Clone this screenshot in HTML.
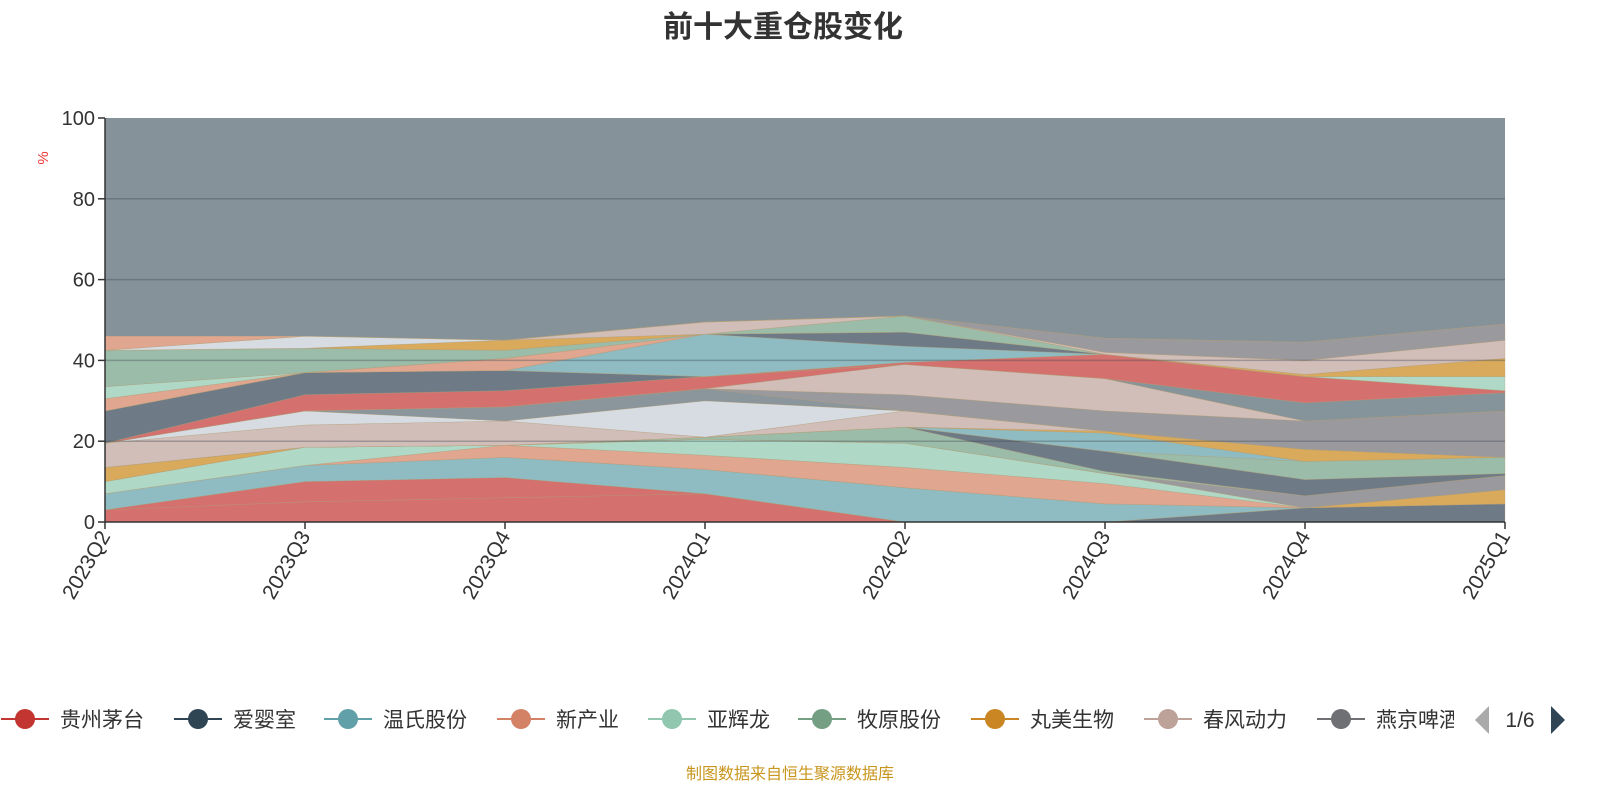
<!DOCTYPE html>
<html><head><meta charset="utf-8"><style>
body{margin:0;background:#fff;font-family:"Liberation Sans","Noto Sans CJK SC",sans-serif}
svg text{font-family:"Liberation Sans","Noto Sans CJK SC",sans-serif}
</style></head><body>
<svg id="c" width="1600" height="800">
<text x="783" y="37" text-anchor="middle" font-size="30" font-weight="bold" fill="#333">前十大重仓股变化</text>
<g id="areas"></g>
<g id="axes"></g>
<text x="0" y="0" transform="translate(48,158) rotate(-90)" text-anchor="middle" font-size="15" fill="#e33">%</text>
<g id="legend"></g>
<text x="790" y="779" text-anchor="middle" font-size="16" fill="#c8961e">制图数据来自恒生聚源数据库</text>
</svg>
<script>
const categories=["2023Q2","2023Q3","2023Q4","2024Q1","2024Q2","2024Q3","2024Q4","2025Q1"];
const yTicks=[0,20,40,60,80,100];
const legendNames=["贵州茅台","爱婴室","温氏股份","新产业","亚辉龙","牧原股份","丸美生物","春风动力","燕京啤酒"];
const legendColors=["#c23531","#2f4554","#61a0a8","#d48265","#91c7ae","#749f83","#ca8622","#bda29a","#6e7074"];
const s01=[3,5,6,7,0,0,0,0];
const s02=[0,0,0,0,0,0,3.5,4.5];
const s03=[0,5,5,0,0,0,0,0];
const s04=[4,4,5,6,8.5,4.5,0,0];
const s05=[0,0,0,0,0,0,0,3.5];
const s06=[0,0,3,3.5,5,5,0,0];
const s07=[3,4.5,0,4,6,2.5,0,0];
const s08=[0,0,0,0,0,0,3,3.5];
const s09=[3.5,0,0,0,0,0,0,0];
const s10=[0,0,0,0.5,4,0.5,0,0];
const s11=[0,0,0,0,0,5,4,0.5];
const s12=[0,0,0,0,0,0,4.5,4];
const s13=[0,0,0,0,0,4.5,0,0];
const s14=[0,0,0,0,0,0.5,3,0];
const s15=[6,5.5,6,0,4,0,0,0];
const s16=[0,3.5,0,9,0,0,0,0];
const s17=[0,0,3.5,3,0,0,0,0];
const s18=[0,0,0,0,4,5,7,11.5];
const s19=[0,0,0,0,7.5,8,0,0];
const s20=[0,4,4,3,0,0,0,0];
const s21=[8,5.5,5,0,0,0,0,0];
const s22=[0,0,0,0,0,0,4.5,4.5];
const s23=[0,0,0,0,0.5,6,6.5,0.5];
const s24=[0,0,0,10.5,4,0,0,0];
const s25=[0,0,0,0,3.5,0,0,0];
const s26=[3,0,3,0,0,0,0,0];
const s27=[3,0,0,0,0,0,0,3.5];
const s28=[9,6,2,0,4,0,0,0];
const s29=[0,0,2.5,0,0,0,0.5,4.5];
const s30=[0,0,0,3,0,0.5,3.5,4.5];
const s31=[0,3,0,0,0,0,0,0];
const s32=[0,0,0,0,0,3.5,4.5,4];
const s33=[3.5,0,0,0,0,0,0,0];
const series=[s01,s02,s03,s04,s05,s06,s07,s08,s09,s10,s11,s12,s13,s14,s15,s16,s17,s18,s19,s20,s21,s22,s23,s24,s25,s26,s27,s28,s29,s30,s31,s32,s33];
const fills=["#d4706e","#6e7b87","#d4706e","#8fbcc2","#d9a95c","#e0a690","#b0d8c6","#9a9a9e","#d9a95c","#9bbca8","#6e7b87","#9bbca8","#8fbcc2","#d9a95c","#d2beb8","#d7dce2","#8a959c","#9a9a9e","#d2beb8","#d4706e","#6e7b87","#85939a","#d4706e","#8fbcc2","#6e7b87","#e0a690","#b0d8c6","#9bbca8","#d9a95c","#d2beb8","#d7dce2","#9a9a9e","#e0a690"];
const NS="http://www.w3.org/2000/svg";
const X0=105,X1=1505,Y0=522,Y1=118;
const xs=i=>X0+(X1-X0)*i/(categories.length-1);
const ys=v=>Y0-(Y0-Y1)*v/100;
const areas=document.getElementById('areas');
function mk(t,a,p){const e=document.createElementNS(NS,t);for(const k in a)e.setAttribute(k,a[k]);p.appendChild(e);return e;}
let base=categories.map(()=>0);
const bg=mk('rect',{x:X0,y:Y1,width:X1-X0,height:Y0-Y1,fill:'#85929a'},areas);


series.forEach((s,k)=>{
  const top=base.map((b,i)=>b+s[i]);
  let d='';
  top.forEach((v,i)=>{d+=(i?'L':'M')+xs(i)+','+ys(v);});
  for(let i=base.length-1;i>=0;i--)d+='L'+xs(i)+','+ys(base[i]);
  const p=mk('path',{d:d+'Z',fill:fills[k],stroke:'rgba(180,160,120,0.5)','stroke-width':0.6},areas);
  
  
  base=top;
});
const ax=document.getElementById('axes');
yTicks.forEach(t=>{
  if(t>0&&t<100){const g=mk('line',{x1:X0,x2:X1,y1:ys(t),y2:ys(t),stroke:'rgba(60,70,80,0.35)','stroke-width':1.5},ax);
  
  }
  const tl=mk('line',{x1:X0-7,x2:X0,y1:ys(t),y2:ys(t),stroke:'#333','stroke-width':1.5},ax);
  
  
  const tx=mk('text',{x:X0-10,y:ys(t)+7,'text-anchor':'end','font-size':20,fill:'#333'},ax);
  tx.textContent=t;
  
  
});
const ya=mk('line',{x1:X0,x2:X0,y1:Y1,y2:Y0,stroke:'#333','stroke-width':1.5},ax);


const xa=mk('line',{x1:X0,x2:X1,y1:Y0,y2:Y0,stroke:'#333','stroke-width':1.5},ax);


categories.forEach((c,i)=>{
  const tl=mk('line',{x1:xs(i),x2:xs(i),y1:Y0,y2:Y0+7,stroke:'#333','stroke-width':1.5},ax);
  
  
  const tx=mk('text',{x:0,y:0,'text-anchor':'end','font-size':21,fill:'#333',transform:`translate(${xs(i)+6},${Y0+14}) rotate(-60)`},ax);
  tx.textContent=c;
  
  
});
const lg=document.getElementById('legend');
const lx=[25,198,348,521,672,822,995,1168,1341];
legendNames.forEach((n,i)=>{
  const g=mk('g',{},lg);
  
  
  mk('line',{x1:lx[i]-24,x2:lx[i]+24,y1:719,y2:719,stroke:legendColors[i],'stroke-width':2},g);
  mk('circle',{cx:lx[i],cy:719,r:10,fill:legendColors[i]},g);
  const t=mk('text',{x:lx[i]+35,y:727,'font-size':21,fill:'#333'},g);
  t.textContent=n;
});
const clip=mk('rect',{x:1454,y:695,width:16,height:50,fill:'#fff'},lg);


const pl=mk('path',{d:'M1489,706 L1475,720 L1489,734 Z',fill:'#aaa'},lg);


const pt=mk('text',{x:1520,y:727,'text-anchor':'middle','font-size':21,fill:'#333'},lg);
pt.textContent='1/6';


const pr=mk('path',{d:'M1551,706 L1565,720 L1551,734 Z',fill:'#2f4554'},lg);


</script>
</body></html>
